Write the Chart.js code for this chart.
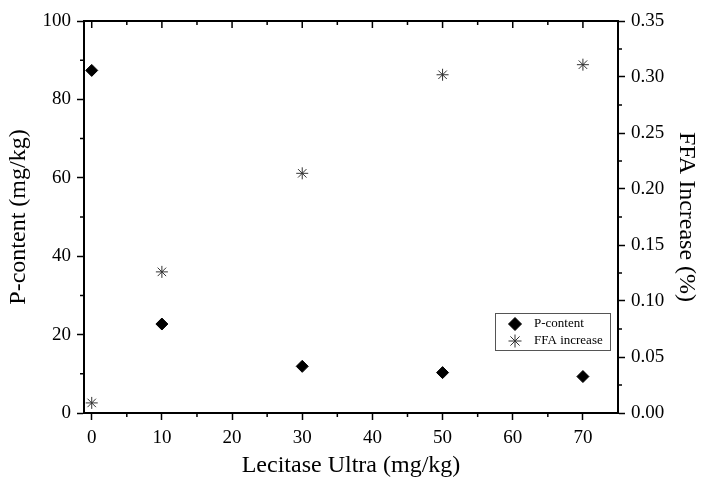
<!DOCTYPE html>
<html>
<head>
<meta charset="utf-8">
<script src="https://cdn.jsdelivr.net/npm/chart.js@4/dist/chart.umd.min.js"></script>
<style>
  html, body { margin: 0; padding: 0; background: #fff; }
  #wrap { width: 709px; height: 494px; }
</style>
</head>
<body>
<div id="wrap"><canvas id="chart"></canvas></div>
<script>
// data
var doses = [0, 10, 30, 50, 70];
var pContent = [87.4, 22.7, 11.9, 10.3, 9.3];
var ffaIncrease = [0.009, 0.126, 0.214, 0.302, 0.311];

var xTicks = [0, 10, 20, 30, 40, 50, 60, 70];
var xMinor = [5, 15, 25, 35, 45, 55, 65];
var leftTicks = [0, 20, 40, 60, 80, 100];
var leftMinor = [10, 30, 50, 70, 90];
var rightTicks = [0, 0.05, 0.10, 0.15, 0.20, 0.25, 0.30, 0.35];
var rightMinor = [0.025, 0.075, 0.125, 0.175, 0.225, 0.275, 0.325];

var serif = "'Liberation Serif', 'DejaVu Serif', serif";

// top axis line, inward top ticks, minor ticks and the boxed legend
var framePlugin = {
    id: "frame",
    afterDraw: function(chart) {
        var ctx = chart.ctx;
        var a = chart.chartArea;
        var x = chart.scales.x, y = chart.scales.y, y2 = chart.scales.y2;
        ctx.save();
        ctx.strokeStyle = "#000";
        ctx.lineWidth = 2;
        ctx.beginPath();
        ctx.moveTo(a.left - 1, a.top);
        ctx.lineTo(a.right + 1, a.top);
        ctx.stroke();

        ctx.lineWidth = 1.5;
        ctx.beginPath();
        xTicks.forEach(function(v) {
            var px = x.getPixelForValue(v);
            ctx.moveTo(px, a.top); ctx.lineTo(px, a.top + 7);
        });
        xMinor.forEach(function(v) {
            var px = x.getPixelForValue(v);
            ctx.moveTo(px, a.top); ctx.lineTo(px, a.top + 4);
            ctx.moveTo(px, a.bottom); ctx.lineTo(px, a.bottom + 4);
        });
        leftMinor.forEach(function(v) {
            var py = y.getPixelForValue(v);
            ctx.moveTo(a.left, py); ctx.lineTo(a.left - 4, py);
        });
        rightMinor.forEach(function(v) {
            var py = y2.getPixelForValue(v);
            ctx.moveTo(a.right, py); ctx.lineTo(a.right + 4, py);
        });
        ctx.stroke();

        // legend
        var lx = 495, ly = 313, lw = 115, lh = 37;
        ctx.lineWidth = 1;
        ctx.strokeStyle = "#555";
        ctx.strokeRect(lx + 0.5, ly + 0.5, lw, lh);
        var ds = chart.data.datasets;
        [0, 1].forEach(function(i) {
            var cy = ly + 11 + i * 17;
            ctx.fillStyle = ds[i].backgroundColor;
            ctx.strokeStyle = ds[i].borderColor;
            ctx.lineWidth = ds[i].borderWidth;
            Chart.helpers.drawPoint(ctx, {
                pointStyle: ds[i].pointStyle,
                radius: ds[i].pointRadius + 0.5,
                rotation: 0,
                borderWidth: ds[i].borderWidth
            }, lx + 20, cy);
            ctx.fillStyle = "#000";
            ctx.font = "13px " + serif;
            ctx.textBaseline = "middle";
            ctx.textAlign = "left";
            ctx.fillText(ds[i].label, lx + 39, cy);
        });
        ctx.restore();
    }
};

var ctx = document.getElementById("chart").getContext("2d");
var chart = new Chart(ctx, {
    type: "scatter",
    data: {
        datasets: [{
            label: "P-content",
            data: doses.map(function(d, i) { return { x: d, y: pContent[i] }; }),
            yAxisID: "y",
            pointStyle: "rectRot",
            pointRadius: 6,
            backgroundColor: "#000",
            borderColor: "#000",
            borderWidth: 1
        }, {
            label: "FFA increase",
            data: doses.map(function(d, i) { return { x: d, y: ffaIncrease[i] }; }),
            yAxisID: "y2",
            pointStyle: "star",
            pointRadius: 6,
            backgroundColor: "#333",
            borderColor: "#333",
            borderWidth: 1
        }]
    },
    options: {
        responsive: true,
        maintainAspectRatio: false,
        animation: false,
        layout: { padding: { top: 21, left: 0, right: 0, bottom: 10 } },
        plugins: {
            legend: { display: false },
            tooltip: { enabled: false }
        },
        scales: {
            x: {
                type: "linear",
                min: -1.1,
                max: 75,
                afterBuildTicks: function(s) {
                    s.ticks = xTicks.map(function(v) { return { value: v }; });
                },
                afterFit: function(s) { s.height = 71; },
                grid: { drawOnChartArea: false, tickLength: 7, tickWidth: 1.5, tickColor: "#000" },
                border: { display: true, color: "#000", width: 2 },
                ticks: { color: "#000", font: { family: serif, size: 19 }, padding: 7, maxRotation: 0 },
                title: {
                    display: true,
                    text: "Lecitase Ultra (mg/kg)",
                    color: "#000",
                    font: { family: serif, size: 24 },
                    padding: { top: 10 }
                }
            },
            y: {
                position: "left",
                min: 0,
                max: 100,
                afterBuildTicks: function(s) {
                    s.ticks = leftTicks.map(function(v) { return { value: v }; });
                },
                afterFit: function(s) { s.width = 84; },
                grid: { drawOnChartArea: false, tickLength: 7, tickWidth: 1.5, tickColor: "#000" },
                border: { display: true, color: "#000", width: 2 },
                ticks: { color: "#000", font: { family: serif, size: 19 }, padding: 6 },
                title: {
                    display: true,
                    text: "P-content (mg/kg)",
                    color: "#000",
                    font: { family: serif, size: 24 },
                    padding: { bottom: 2 }
                }
            },
            y2: {
                position: "right",
                min: 0,
                max: 0.35,
                afterBuildTicks: function(s) {
                    s.ticks = rightTicks.map(function(v) { return { value: v }; });
                },
                afterFit: function(s) { s.width = 91; },
                grid: { drawOnChartArea: false, tickLength: 7, tickWidth: 1.5, tickColor: "#000" },
                border: { display: true, color: "#000", width: 2 },
                ticks: {
                    color: "#000",
                    font: { family: serif, size: 19 },
                    padding: 6,
                    callback: function(v) { return v.toFixed(2); }
                },
                title: {
                    display: true,
                    text: "FFA Increase (%)",
                    color: "#000",
                    font: { family: serif, size: 24 },
                    padding: { top: 8 }
                }
            }
        }
    },
    plugins: [framePlugin]
});
</script>
</body>
</html>
